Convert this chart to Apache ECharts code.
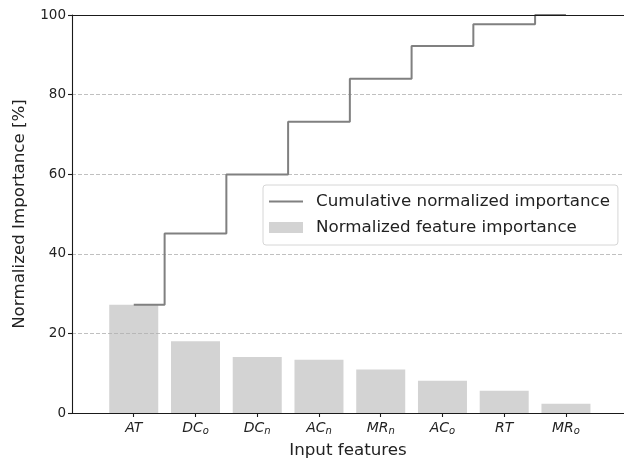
<!DOCTYPE html>
<html>
<head>
<meta charset="utf-8">
<script src="https://cdn.jsdelivr.net/npm/echarts@6/dist/echarts.min.js"></script>
<style>
  html, body { margin: 0; padding: 0; background: #fff; }
  #chart { width: 624px; height: 467px; }
</style>
</head>
<body>
<div id="chart"></div>
<script>
// Feature names: main symbol and subscript (empty when none)
const featureMain = ['AT', 'DC', 'DC', 'AC', 'MR', 'AC', 'RT', 'MR'];
const featureSub  = ['',   'o',  'n',  'n',  'n',  'o',  '',   'o'];

// Normalized feature importance per feature [%]
const importance = [27.2, 18.0, 14.1, 13.4, 10.9, 8.1, 5.6, 2.3];

// Cumulative normalized importance [%]
const cumulative = [27.2, 45.1, 59.9, 73.2, 84.0, 92.2, 97.7, 100];

// Y-axis ticks
const yTicks = [0, 20, 40, 60, 80, 100];

const FONT = 'DejaVu Sans';
const SPINE = '#1a1a1a';
const featureIdx = featureMain.map((_, i) => i);
const X_MIN = -1, X_MAX = 7.94;

const chart = echarts.init(document.getElementById('chart'), null, { renderer: 'canvas' });

chart.setOption({
  animation: false,
  backgroundColor: '#ffffff',
  grid: { left: 72, top: 15, right: 0, bottom: 54, show: false },
  legend: {
    orient: 'vertical',
    left: 263, top: 185,
    padding: [8, 8, 9, 6],
    itemGap: 9,
    itemWidth: 34, itemHeight: 11,
    backgroundColor: '#ffffff',
    borderColor: '#d6d6d6', borderWidth: 1, borderRadius: 3,
    textStyle: { fontFamily: FONT, fontSize: 16.7, color: '#222', padding: [0, 0, 0, 8] },
    data: [
      { name: 'Cumulative normalized importance', icon: 'path://M0,0H34V2H0Z' },
      { name: 'Normalized feature importance', icon: 'rect' }
    ],
    z: 10
  },
  xAxis: [
    {
      type: 'value',
      min: X_MIN, max: X_MAX,
      interval: 1,
      z: 10,
      name: 'Input features',
      nameLocation: 'middle',
      nameGap: 29,
      nameTextStyle: { fontFamily: FONT, fontSize: 16.7, color: '#222' },
      axisLine: { show: true, onZero: false, lineStyle: { color: SPINE, width: 1.1 } },
      axisTick: { show: true, length: 4, customValues: featureIdx, lineStyle: { color: SPINE, width: 1.1 } },
      splitLine: { show: false },
      axisLabel: {
        customValues: featureIdx,
        margin: 7,
        formatter: function (v) {
          const i = Math.round(v);
          if (i < 0 || i >= featureMain.length) return '';
          return featureSub[i]
            ? '{m|' + featureMain[i] + '}{s|' + featureSub[i] + '}'
            : '{m|' + featureMain[i] + '}';
        },
        rich: {
          m: { fontFamily: FONT, fontStyle: 'italic', fontSize: 14, color: '#222', lineHeight: 16 },
          s: { fontFamily: FONT, fontStyle: 'italic', fontSize: 10, color: '#222', padding: [7, 0, 0, 0], lineHeight: 16 }
        }
      }
    },
    {
      // top spine
      type: 'value',
      position: 'top',
      min: X_MIN, max: X_MAX,
      z: 10,
      axisLine: { show: true, onZero: false, lineStyle: { color: SPINE, width: 1.1 } },
      axisTick: { show: false },
      axisLabel: { show: false },
      splitLine: { show: false }
    }
  ],
  yAxis: {
    type: 'value',
    min: 0, max: 100, interval: 20,
    z: 3,
    name: 'Normalized Importance [%]',
    nameLocation: 'middle',
    nameGap: 44,
    nameTextStyle: { fontFamily: FONT, fontSize: 16.7, color: '#222' },
    axisLine: { show: true, onZero: false, lineStyle: { color: SPINE, width: 1.1 } },
    axisTick: { show: true, length: 4, lineStyle: { color: SPINE, width: 1.1 } },
    axisLabel: {
      margin: 6,
      fontFamily: FONT, fontSize: 13.5, color: '#222',
      customValues: yTicks
    },
    splitLine: { show: true, lineStyle: { color: '#b0b0b0', width: 0.8, type: [4, 2] } }
  },
  series: [
    {
      name: 'Normalized feature importance',
      type: 'bar',
      barWidth: 49,
      z: 2,
      itemStyle: { color: '#d3d3d3' },
      data: importance.map((v, i) => [i, v])
    },
    {
      name: 'Cumulative normalized importance',
      type: 'line',
      step: 'middle',
      symbol: 'none',
      z: 5,
      lineStyle: { color: '#808080', width: 2 },
      itemStyle: { color: '#808080' },
      data: cumulative.map((v, i) => [i, v])
    }
  ]
});
</script>
</body>
</html>
